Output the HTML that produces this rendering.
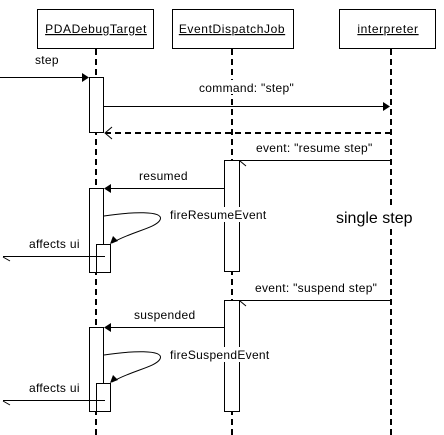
<html><body style="margin:0;background:#fff">
<svg width="444" height="435" xmlns="http://www.w3.org/2000/svg" style="display:block">
<g fill="#fff" stroke="#000" stroke-width="1">
<rect x="37.5" y="9.5" width="116" height="39"/>
<rect x="172.5" y="9.5" width="121" height="39"/>
<rect x="339.5" y="9.5" width="96" height="39"/>
</g>
<g text-anchor="middle" fill="#000" font-family="Liberation Sans, sans-serif" font-size="12" letter-spacing="0.6">
<text x="96" y="33" text-decoration="underline">PDADebugTarget</text>
<text x="232" y="33" text-decoration="underline">EventDispatchJob</text>
<text x="388" y="33" text-decoration="underline">interpreter</text>
</g>
<g stroke="#000" stroke-width="2" stroke-dasharray="6,4">
<line x1="96" y1="49" x2="96" y2="435"/>
<line x1="232" y1="49" x2="232" y2="435"/>
<line x1="391" y1="49" x2="391" y2="435"/>
</g>
<g fill="#fff" stroke="#000">
<rect x="89.5" y="77.5" width="14" height="55"/>
<rect x="224.5" y="160.5" width="15" height="111"/>
<rect x="89.5" y="188.5" width="14" height="84"/>
<rect x="96.5" y="244.5" width="14" height="28"/>
<rect x="224.5" y="300.5" width="15" height="111"/>
<rect x="89.5" y="327.5" width="14" height="84"/>
<rect x="96.5" y="383.5" width="14" height="28"/>
</g>
<g fill="#fff">
<rect x="198" y="80" width="96" height="14"/>
<rect x="168" y="207" width="100" height="15"/>
<rect x="168" y="347" width="104" height="15"/>
<rect x="334" y="205" width="94" height="22"/>
</g>
<g stroke="#000" fill="none">
<line x1="0" y1="77.5" x2="88" y2="77.5"/>
<line x1="104" y1="106.5" x2="389" y2="106.5"/>
<line x1="391" y1="133" x2="106" y2="133" stroke-width="2" stroke-dasharray="6,4"/>
<polyline points="112,127 105,133 112,139"/>
<line x1="391" y1="160.5" x2="240" y2="160.5"/>
<line x1="240" y1="161" x2="246" y2="166"/>
<line x1="224" y1="188.5" x2="105" y2="188.5"/>
<path d="M104,216 C130,212 165,210 160,220 C156,228 130,232 112,243"/>
<line x1="105" y1="256.5" x2="3" y2="256.5"/>
<line x1="3" y1="257" x2="10" y2="261"/>
<line x1="391" y1="300.5" x2="240" y2="300.5"/>
<line x1="240" y1="301" x2="246" y2="306"/>
<line x1="224" y1="327.5" x2="105" y2="327.5"/>
<path d="M104,355 C130,351 165,349 160,359 C156,367 130,371 112,382"/>
<line x1="105" y1="400.5" x2="3" y2="400.5"/>
<line x1="3" y1="401" x2="10" y2="405"/>
</g>
<g fill="#000">
<polygon points="89,77.5 82,73 82,82"/>
<polygon points="390,106.5 383,102 383,111"/>
<polygon points="104,188.5 111,184 111,193"/>
<polygon points="110,244 113,236 118,241"/>
<polygon points="104,327.5 111,323 111,332"/>
<polygon points="110,383 113,375 118,380"/>
</g>
<g fill="#000" font-family="Liberation Sans, sans-serif" font-size="12" letter-spacing="0.3">
<text x="35" y="64">step</text>
<text x="199" y="92">command: "step"</text>
<text x="256" y="152">event: "resume step"</text>
<text x="139" y="180">resumed</text>
<text x="170" y="219">fireResumeEvent</text>
<text x="29" y="248">affects ui</text>
<text x="255" y="292">event: "suspend step"</text>
<text x="134" y="319">suspended</text>
<text x="170" y="359">fireSuspendEvent</text>
<text x="29" y="392">affects ui</text>
<text x="336" y="223" font-size="16" letter-spacing="0">single step</text>
</g>
</svg>
</body></html>
